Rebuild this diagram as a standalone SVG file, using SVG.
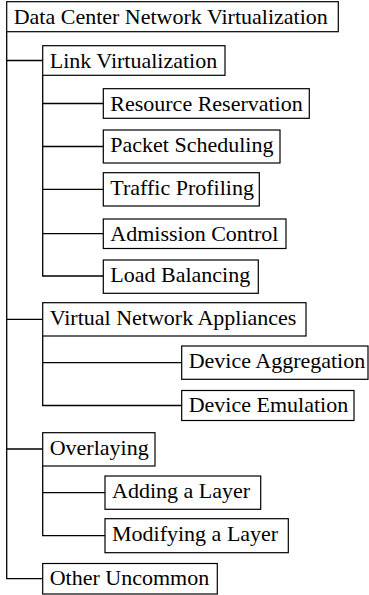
<svg xmlns="http://www.w3.org/2000/svg" width="369" height="595" viewBox="0 0 369 595">
<style>
.box{fill:#fff;stroke:#000;stroke-width:1.2}
.lbl{font-family:"Liberation Serif","Times New Roman",serif;font-size:22px;fill:#000}
.edge{fill:none;stroke:#000;stroke-width:1.3}
</style>
<rect width="369" height="595" fill="#fff"/>
<g id="connectors">
<path class="edge" d="M6.7,31.7 V578.7 H42.7 M6.7,60.5 H42.7 M6.7,319.3 H42.7 M6.7,449 H42.7"/>
<path class="edge" d="M42.7,75.3 V276 H103.3 M42.7,103.5 H103.3 M42.7,146.5 H103.3 M42.7,189.3 H103.3 M42.7,233.7 H103.3"/>
<path class="edge" d="M42.7,336 V405.5 H181.7 M42.7,362.7 H181.7"/>
<path class="edge" d="M42.7,466 V535.7 H105 M42.7,492.7 H105"/>
</g>
<g id="root"><rect class="box" x="6.7" y="1.7" width="331.6" height="30"/><text class="lbl" x="13.7" y="23.6">Data Center Network Virtualization</text></g>
<g id="link-virtualization"><rect class="box" x="42.7" y="45.7" width="182.3" height="29.6"/><text class="lbl" x="49.7" y="67.5">Link Virtualization</text></g>
<g id="resource-reservation"><rect class="box" x="103.3" y="88.7" width="206" height="29.6"/><text class="lbl" x="110.3" y="110.5">Resource Reservation</text></g>
<g id="packet-scheduling"><rect class="box" x="103.3" y="130" width="176.7" height="33"/><text class="lbl" x="110.3" y="151.8">Packet Scheduling</text></g>
<g id="traffic-profiling"><rect class="box" x="103.3" y="172.7" width="156" height="33.3"/><text class="lbl" x="110.3" y="194.5">Traffic Profiling</text></g>
<g id="admission-control"><rect class="box" x="103.3" y="219" width="182.7" height="29.5"/><text class="lbl" x="110.3" y="240.8">Admission Control</text></g>
<g id="load-balancing"><rect class="box" x="103.3" y="260" width="155" height="33.3"/><text class="lbl" x="110.3" y="281.8">Load Balancing</text></g>
<g id="virtual-network-appliances"><rect class="box" x="42.7" y="302.7" width="263.3" height="33.3"/><text class="lbl" x="49.7" y="324.5">Virtual Network Appliances</text></g>
<g id="device-aggregation"><rect class="box" x="181.7" y="346" width="186.3" height="33.3"/><text class="lbl" x="188.7" y="367.8">Device Aggregation</text></g>
<g id="device-emulation"><rect class="box" x="181.7" y="390.5" width="172.3" height="30"/><text class="lbl" x="188.7" y="412.3">Device Emulation</text></g>
<g id="overlaying"><rect class="box" x="42.7" y="432.7" width="112.3" height="33.3"/><text class="lbl" x="49.7" y="454.5">Overlaying</text></g>
<g id="adding-a-layer"><rect class="box" x="105" y="476" width="155.7" height="33.3"/><text class="lbl" x="112" y="497.8">Adding a Layer</text></g>
<g id="modifying-a-layer"><rect class="box" x="105" y="518.7" width="183.3" height="34"/><text class="lbl" x="112" y="540.5">Modifying a Layer</text></g>
<g id="other-uncommon"><rect class="box" x="42.7" y="563.5" width="174.6" height="30.5"/><text class="lbl" x="49.7" y="585.3">Other Uncommon</text></g>
</svg>
